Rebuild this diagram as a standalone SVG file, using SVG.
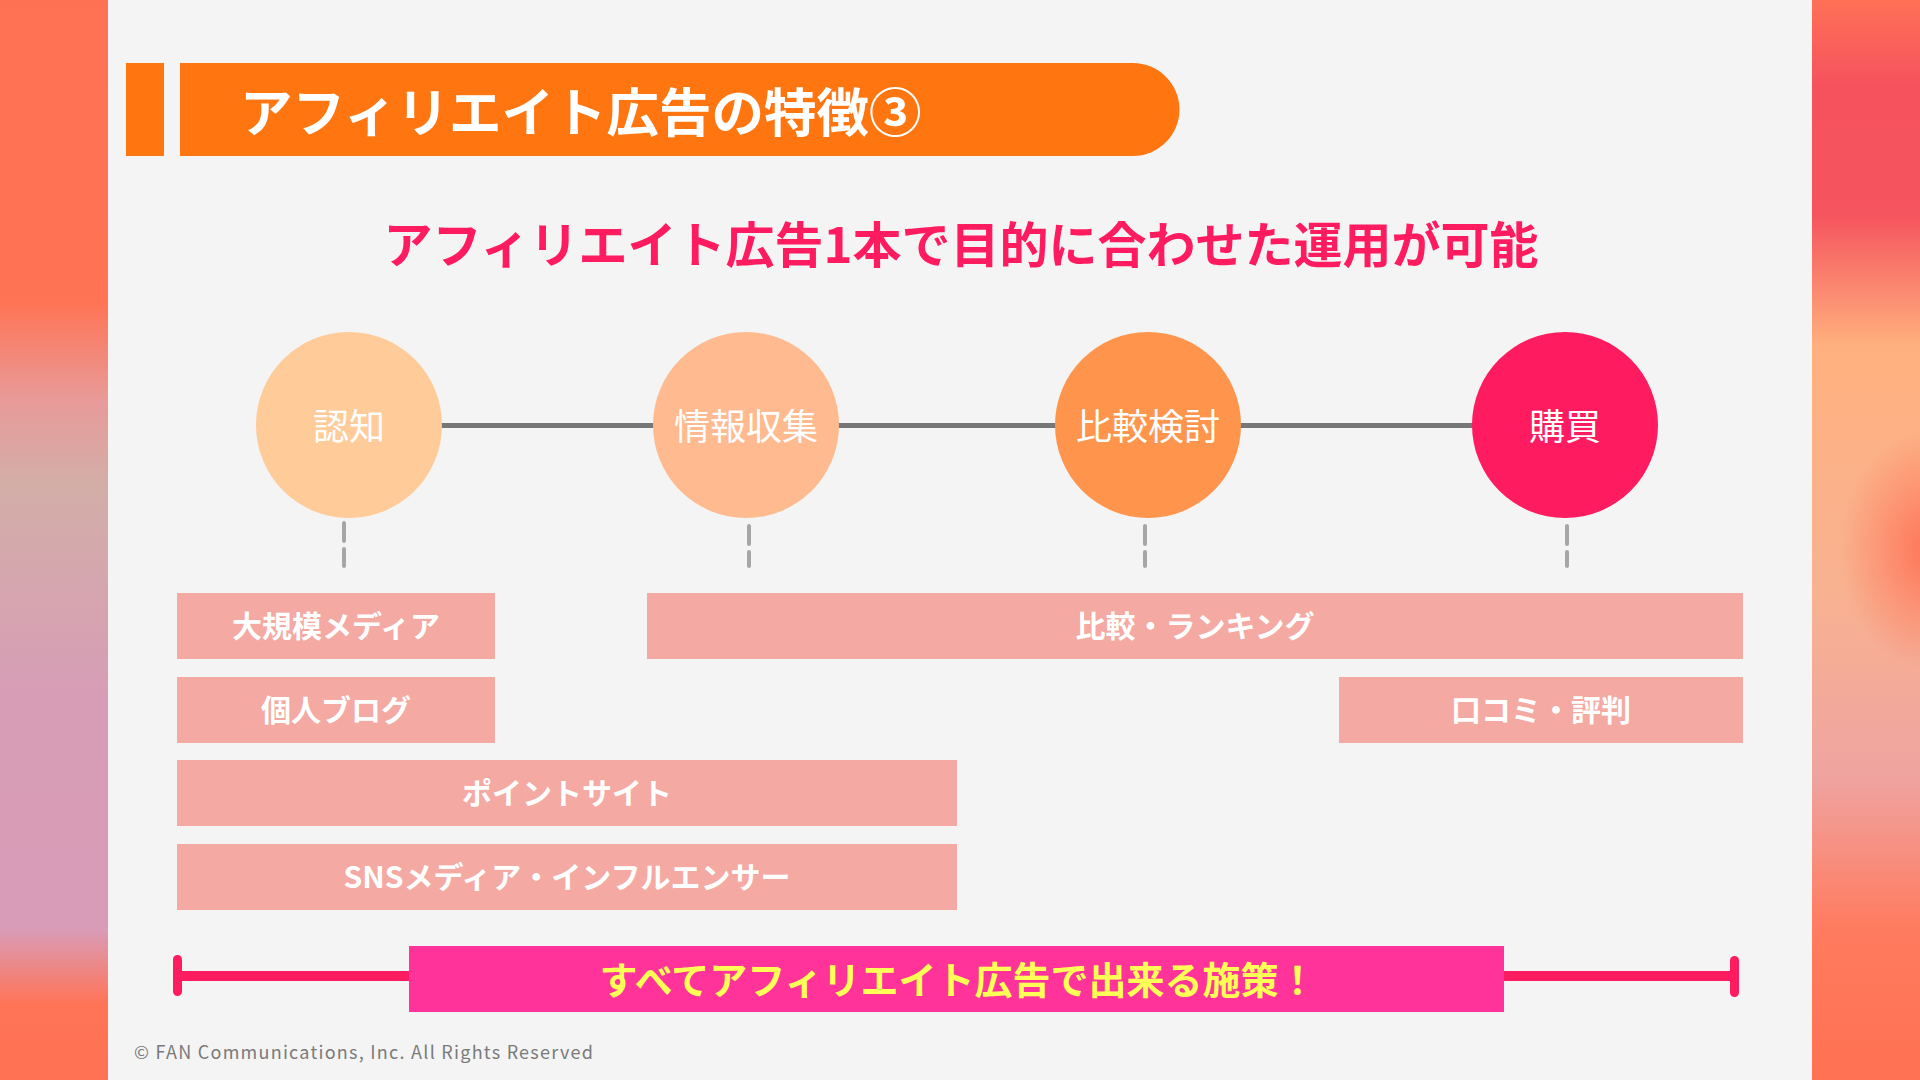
<svg xmlns="http://www.w3.org/2000/svg" width="1920" height="1080" viewBox="0 0 1920 1080">
<defs>
<linearGradient id="gl" x1="0" y1="0" x2="0" y2="1">
<stop offset="0" stop-color="#FF7152"/>
<stop offset="0.28" stop-color="#FF7455"/>
<stop offset="0.37" stop-color="#E89A98"/>
<stop offset="0.45" stop-color="#D3AEA8"/>
<stop offset="0.65" stop-color="#D79CB6"/>
<stop offset="0.86" stop-color="#D99CB8"/>
<stop offset="0.93" stop-color="#FF7457"/>
<stop offset="1" stop-color="#FF7152"/>
</linearGradient>
<linearGradient id="gr" x1="0" y1="0" x2="0" y2="1">
<stop offset="0" stop-color="#FF7056"/>
<stop offset="0.08" stop-color="#F5525E"/>
<stop offset="0.2" stop-color="#F5555E"/>
<stop offset="0.32" stop-color="#FFB07E"/>
<stop offset="0.55" stop-color="#F8B291"/>
<stop offset="0.72" stop-color="#EFA3A0"/>
<stop offset="0.86" stop-color="#FF7B5F"/>
<stop offset="1" stop-color="#FF7152"/>
</linearGradient>
<radialGradient id="blob" cx="0.5" cy="0.5" r="0.5">
<stop offset="0" stop-color="#FF7458" stop-opacity="1"/>
<stop offset="1" stop-color="#FF7458" stop-opacity="0"/>
</radialGradient>
<style>
.jp{font-family:"Noto Sans CJK JP","Noto Sans",sans-serif;}
.b{font-weight:700;}
.ct{fill:#FFFFFF;font-size:36px;text-anchor:middle;}
.box{fill:#F4A9A3;}
.bt{fill:#FFFFFF;font-size:30px;font-weight:700;text-anchor:middle;}
.dash{stroke:#A6A6A6;stroke-width:4;stroke-linecap:round;stroke-dasharray:18 8;fill:none;}
</style>
</defs>
<rect x="0" y="0" width="1920" height="1080" fill="#F4F4F4"/>
<rect x="0" y="0" width="108" height="1080" fill="url(#gl)"/>
<rect x="1812" y="0" width="108" height="1080" fill="url(#gr)"/>
<ellipse cx="1930" cy="550" rx="90" ry="120" fill="url(#blob)"/>

<g id="header">
<rect x="126" y="63" width="38" height="93" fill="#FF7510"/>
<path d="M180 63 H1133 A46.5 46.5 0 0 1 1133 156 H180 Z" fill="#FF7510"/>
<text class="jp b" x="240" y="132" font-size="52.5" fill="#FFFFFF">アフィリエイト広告の特徴③</text>
</g>

<g id="subtitle">
<text class="jp b" x="961" y="263" font-size="49" fill="#FF1B60" text-anchor="middle">アフィリエイト広告1本で目的に合わせた運用が可能</text>
</g>

<g id="connectors">
<line x1="349" y1="425.5" x2="1565" y2="425.5" stroke="#777777" stroke-width="5"/>
<line class="dash" x1="344" y1="523" x2="344" y2="566"/>
<line class="dash" x1="749" y1="526" x2="749" y2="566"/>
<line class="dash" x1="1145" y1="526" x2="1145" y2="566"/>
<line class="dash" x1="1567" y1="526" x2="1567" y2="566"/>
<line x1="178" y1="976" x2="1734" y2="976" stroke="#FF1B5F" stroke-width="10"/>
<rect x="173" y="955" width="9" height="41" rx="4.5" fill="#FF1B5F"/>
<rect x="1730" y="956" width="9" height="41" rx="4.5" fill="#FF1B5F"/>
</g>

<g id="node-ninchi">
<circle cx="349" cy="425" r="93" fill="#FFCB99"/>
<text class="jp ct" x="349" y="440">認知</text>
</g>
<g id="node-joho">
<circle cx="746" cy="425" r="93" fill="#FFBA8F"/>
<text class="jp ct" x="746" y="440">情報収集</text>
</g>
<g id="node-hikaku">
<circle cx="1148" cy="425" r="93" fill="#FF944D"/>
<text class="jp ct" x="1148" y="440">比較検討</text>
</g>
<g id="node-konyu">
<circle cx="1565" cy="425" r="93" fill="#FF1B5F"/>
<text class="jp ct" x="1565" y="440">購買</text>
</g>

<g id="bar-daikibo">
<rect class="box" x="177" y="593" width="318" height="66"/>
<text class="jp bt" x="336" y="637">大規模メディア</text>
</g>
<g id="bar-ranking">
<rect class="box" x="647" y="593" width="1096" height="66"/>
<text class="jp bt" x="1195" y="637">比較・ランキング</text>
</g>
<g id="bar-blog">
<rect class="box" x="177" y="677" width="318" height="66"/>
<text class="jp bt" x="336" y="721">個人ブログ</text>
</g>
<g id="bar-kuchikomi">
<rect class="box" x="1339" y="677" width="404" height="66"/>
<text class="jp bt" x="1541" y="721">口コミ・評判</text>
</g>
<g id="bar-point">
<rect class="box" x="177" y="760" width="780" height="66"/>
<text class="jp bt" x="567" y="804">ポイントサイト</text>
</g>
<g id="bar-sns">
<rect class="box" x="177" y="844" width="780" height="66"/>
<text class="jp bt" x="567" y="888">SNSメディア・インフルエンサー</text>
</g>

<g id="summary">
<rect x="409" y="946" width="1095" height="66" fill="#FF3399"/>
<text class="jp b" x="958" y="994" font-size="38" fill="#FFFF55" text-anchor="middle">すべてアフィリエイト広告で出来る施策！</text>
</g>

<g id="footer">
<text class="jp" x="134" y="1059" font-size="18" fill="#7A7A7A" textLength="459" lengthAdjust="spacing">© FAN Communications, Inc. All Rights Reserved</text>
</g>
</svg>
